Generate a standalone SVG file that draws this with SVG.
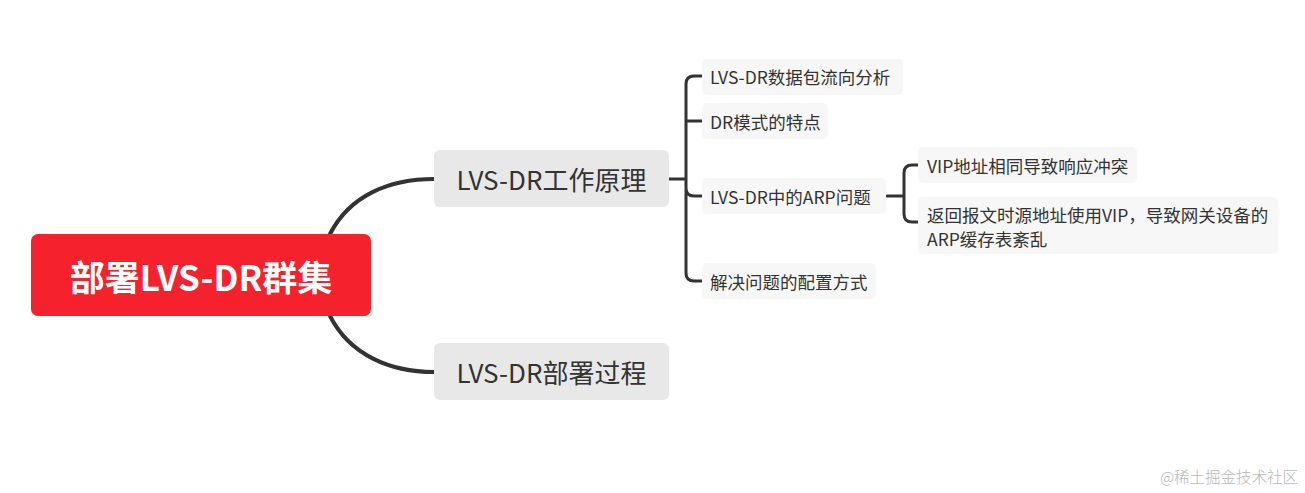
<svg xmlns="http://www.w3.org/2000/svg" width="1305" height="493" viewBox="0 0 1305 493">
<style>
text{font-family:"Noto Sans CJK SC","Noto Sans",sans-serif;}
.con{fill:none;stroke:#333;stroke-width:4;stroke-linecap:round;stroke-linejoin:round}
.con2{fill:none;stroke:#333;stroke-width:3;stroke-linecap:round;stroke-linejoin:round}
.main rect{fill:#e8e8e8}
.main text{font-size:26px;fill:#333;text-anchor:middle;dominant-baseline:central}
.leaf rect{fill:#f7f7f7}
.leaf text{font-size:17.5px;fill:#333;dominant-baseline:central}
</style>
<rect width="1305" height="493" fill="#fff"/>
<g id="connectors">
<path class="con" d="M330,234 C350,195 390,179 434,179"/>
<path class="con" d="M330,316 C350,355 390,372 434,372"/>
<path class="con2" d="M669,179 H686 M704,76 H694 Q686,76 686,84 V273 Q686,281 694,281 H704 M686,121 H704 M686,188 Q686,196 694,196 H704"/>
<path class="con2" d="M887,196 H904 M918,165 H912 Q904,165 904,173 V214 Q904,222 912,222 H918"/>
</g>
<g id="root">
<rect x="31" y="234" width="340" height="82" rx="7" fill="#f5222d"/>
<text x="201" y="275" font-size="35" font-weight="bold" fill="#fff" text-anchor="middle" dominant-baseline="central">部署LVS-DR群集</text>
</g>
<g id="n1" class="main">
<rect x="434" y="150" width="235" height="57" rx="6"/>
<text x="551.5" y="178.5">LVS-DR工作原理</text>
</g>
<g id="n2" class="main">
<rect x="434" y="343" width="235" height="57" rx="6"/>
<text x="551.5" y="371.5">LVS-DR部署过程</text>
</g>
<g id="l1" class="leaf">
<rect x="702" y="59" width="201" height="36" rx="5"/>
<text x="710" y="76">LVS-DR数据包流向分析</text>
</g>
<g id="l2" class="leaf">
<rect x="702" y="103" width="126" height="36" rx="5"/>
<text x="710" y="121">DR模式的特点</text>
</g>
<g id="l3" class="leaf">
<rect x="702" y="178" width="184" height="36" rx="5"/>
<text x="710" y="196">LVS-DR中的ARP问题</text>
</g>
<g id="l4" class="leaf">
<rect x="702" y="263" width="174" height="36" rx="5"/>
<text x="710" y="281">解决问题的配置方式</text>
</g>
<g id="l5" class="leaf">
<rect x="918" y="147" width="219" height="36" rx="5"/>
<text x="927" y="165">VIP地址相同导致响应冲突</text>
</g>
<g id="l6" class="leaf">
<rect x="918" y="197" width="360" height="57" rx="5"/>
<text x="927" y="214">返回报文时源地址使用VIP，导致网关设备的</text>
<text x="927" y="238">ARP缓存表紊乱</text>
</g>
<text x="1298" y="476" font-size="15.5" fill="#b8b8b8" text-anchor="end" dominant-baseline="central" style="font-family:'Noto Sans CJK SC',sans-serif;font-weight:300">@稀土掘金技术社区</text>
</svg>
